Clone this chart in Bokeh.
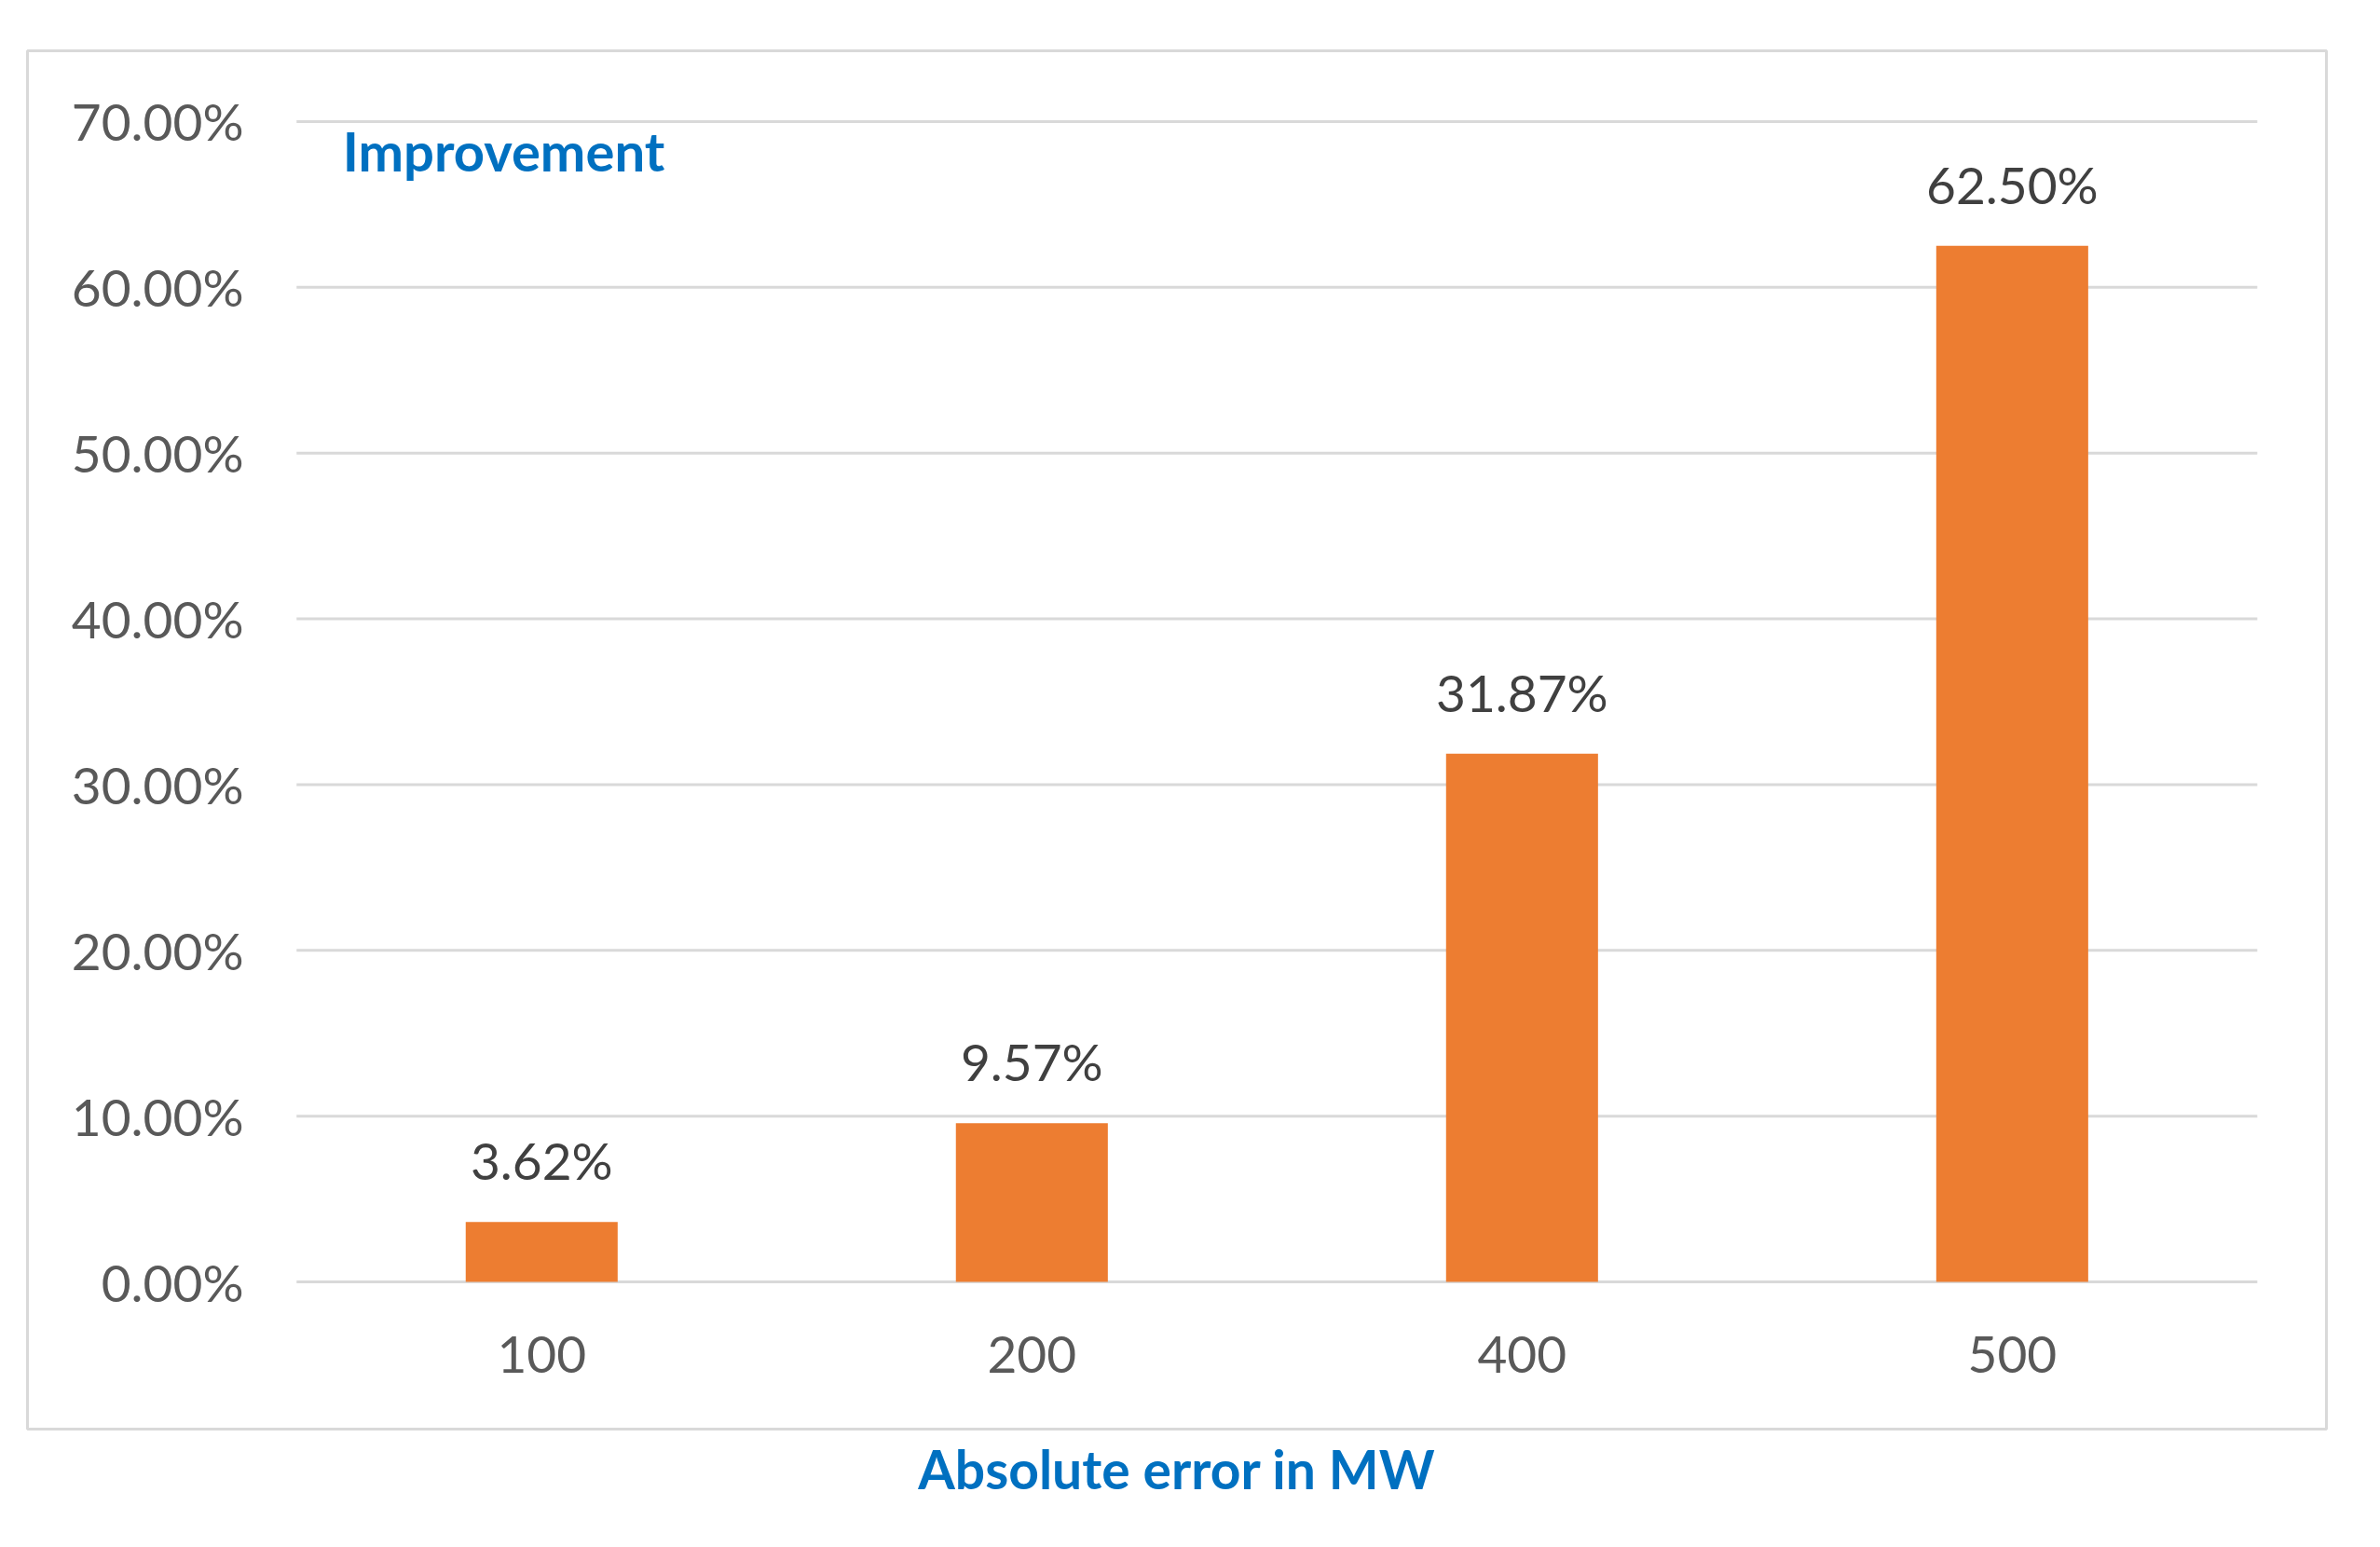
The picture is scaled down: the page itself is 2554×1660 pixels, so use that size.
from bokeh.plotting import figure
from bokeh.models import Range1d, ColumnDataSource, Title
from bokeh.core.properties import value
from bokeh.embed import file_html
from bokeh.resources import INLINE

categories = ["100", "200", "400", "500"]
improvement = [3.62, 9.57, 31.87, 62.50]
y_ticks = [0, 10, 20, 30, 40, 50, 60, 70]
y_tick_labels = ["0.00%", "10.00%", "20.00%", "30.00%", "40.00%", "50.00%", "60.00%", "70.00%"]
value_labels = ["3.62%", "9.57%", "31.87%", "62.50%"]

FONT = "Lato"
ORANGE = "#ED7D31"
BLUE = "#0070C0"
GRID = "#D9D9D9"

p = figure(width=2538, height=1644, output_backend="svg", toolbar_location=None,
           x_range=Range1d(-1.049, 3.641), y_range=Range1d(-8.88, 74.27),
           min_border_left=29, min_border_top=54, min_border_right=42, min_border_bottom=111)
p.xaxis.visible = False
p.yaxis.visible = False
p.xgrid.visible = False
p.ygrid.visible = False
p.outline_line_color = GRID
p.outline_line_width = 3
p.background_fill_color = "white"
p.border_fill_color = "white"

xs = list(range(len(categories)))

# gridlines across plot area
grid_src = ColumnDataSource(dict(x0=[-0.5] * len(y_ticks), x1=[len(categories) - 0.5] * len(y_ticks),
                                 y=y_ticks, lab=y_tick_labels, lx=[-0.608] * len(y_ticks)))
p.segment(x0="x0", y0="y", x1="x1", y1="y", source=grid_src, line_color=GRID, line_width=3)
p.text(x="lx", y="y", text="lab", source=grid_src, text_font=value(FONT), text_font_size="55px",
       text_color="#595959", text_align="right", text_baseline="middle")

bar_src = ColumnDataSource(dict(x=xs, top=improvement, cat=categories, lab=value_labels,
                                cy=[-4.385] * len(categories)))
p.vbar(x="x", top="top", bottom=0, width=0.31, source=bar_src, fill_color=ORANGE, line_color=None)
p.text(x="x", y="top", text="lab", source=bar_src, text_font=value(FONT), text_font_size="55px",
       text_color="#404040", text_align="center", text_baseline="alphabetic", y_offset=-66)
p.text(x="x", y="cy", text="cat", source=bar_src, text_font=value(FONT), text_font_size="55px",
       text_color="#595959", text_align="center", text_baseline="middle")

p.text(x=[-0.406], y=[68.26], text=["Improvement"], text_font=value(FONT), text_font_size="58px",
       text_font_style="bold", text_color=BLUE, text_align="left", text_baseline="middle")

p.add_layout(Title(text="Absolute error in MW", align="center", text_font=FONT,
                   text_font_size="57px", text_font_style="bold", text_color=BLUE,
                   standoff=12), "below")

open("out.html", "w").write(file_html(p, INLINE))
